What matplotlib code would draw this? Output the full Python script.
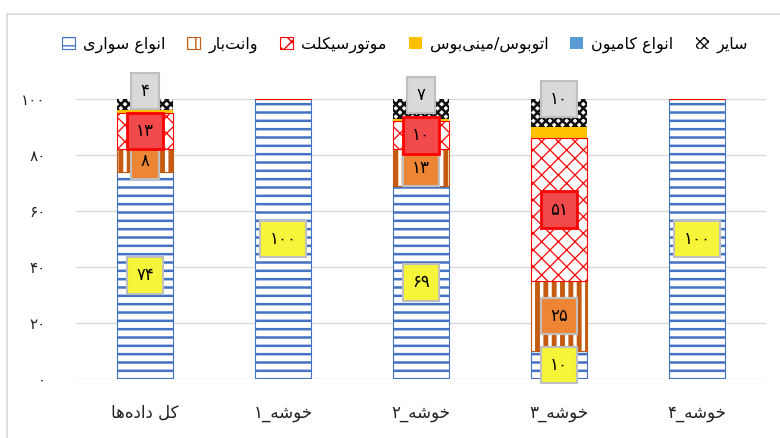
import numpy as np
import matplotlib
matplotlib.use("Agg")
import matplotlib.pyplot as plt
from matplotlib.patches import Rectangle

plt.rcParams['font.family'] = ['DejaVu Sans']

# categories (logical order) and series shares in percent
categories = ['کل داده‌ها', 'خوشه_۱', 'خوشه_۲', 'خوشه_۳', 'خوشه_۴']
series_names = ['انواع سواری', 'وانت‌بار', 'موتورسیکلت', 'اتوبوس/مینی‌بوس', 'انواع کامیون', 'سایر']
sedan = [74, 100, 69, 10, 100]
pickup = [8, 0, 13, 25, 0]
motorcycle = [13, 0, 10, 51, 0]
bus = [1, 0, 1, 4, 0]
truck = [0, 0, 0, 0, 0]
other = [4, 0, 7, 10, 0]
yticks = [0, 20, 40, 60, 80, 100]

# contextual forms: isolated, final, initial, medial (two forms -> no join to the left)
FORMS = {
    'ا': '\uFE8D\uFE8E', 'د': '\uFEA9\uFEAA', 'ر': '\uFEAD\uFEAE', 'و': '\uFEED\uFEEE',
    'ب': '\uFE8F\uFE90\uFE91\uFE92', 'ت': '\uFE95\uFE96\uFE97\uFE98',
    'خ': '\uFEA5\uFEA6\uFEA7\uFEA8', 'س': '\uFEB1\uFEB2\uFEB3\uFEB4',
    'ش': '\uFEB5\uFEB6\uFEB7\uFEB8', 'ع': '\uFEC9\uFECA\uFECB\uFECC',
    'ل': '\uFEDD\uFEDE\uFEDF\uFEE0', 'م': '\uFEE1\uFEE2\uFEE3\uFEE4',
    'ن': '\uFEE5\uFEE6\uFEE7\uFEE8', 'ه': '\uFEE9\uFEEA\uFEEB\uFEEC',
    'ی': '\uFBFC\uFBFD\uFBFE\uFBFF', 'ک': '\uFB8E\uFB8F\uFB90\uFB91',
}


def farsi(s):
    out = []
    for i, ch in enumerate(s):
        if ch not in FORMS:
            if ch != '\u200c':
                out.append(ch)
            continue
        f = FORMS[ch]
        prev = s[i - 1] if i > 0 else ''
        nxt = s[i + 1] if i + 1 < len(s) else ''
        jp = prev in FORMS and len(FORMS[prev]) == 4
        jn = len(f) == 4 and nxt in FORMS
        if jp and jn:
            out.append(f[3])
        elif jp:
            out.append(f[1])
        elif jn:
            out.append(f[2])
        else:
            out.append(f[0])
    return ''.join(reversed(out))


def fa_num(n):
    return str(n).translate(str.maketrans('0123456789', '۰۱۲۳۴۵۶۷۸۹'))


fig = plt.figure(figsize=(7.8, 4.38), dpi=100)
ax = fig.add_axes([76 / 780, 59 / 438, 690 / 780, 280 / 438])

fig.patches.append(Rectangle((7 / 780, -0.01), 1.0, (438 - 14) / 438 + 0.01,
                             transform=fig.transFigure, fill=False,
                             edgecolor='#d9d9d9', lw=1.2))

x = np.arange(len(categories))
width = 0.41
data = [sedan, pickup, motorcycle, bus, truck, other]
styles = [
    dict(facecolor='white', edgecolor='#4472C4', hatch='--', hlw=1.8, lw=0.8),
    dict(facecolor='white', edgecolor='#C55A11', hatch='||', hlw=3.5, lw=0.8),
    dict(facecolor='white', edgecolor='#FF0000', hatch='xx', hlw=0.9, lw=0.8),
    dict(facecolor='#FFC000', edgecolor='#FFC000', hatch=None, hlw=1.0, lw=0),
    dict(facecolor='#5B9BD5', edgecolor='#5B9BD5', hatch=None, hlw=1.0, lw=0),
    dict(facecolor='white', edgecolor='#111111', hatch='xxxx', hlw=1.8, lw=0),
]

bottom = np.zeros(len(categories))
handles = []
for vals, st, name in zip(data, styles, series_names):
    vals = np.array(vals, dtype=float)
    # hatch width is picked up when the bars are created
    with plt.rc_context({'hatch.linewidth': st['hlw']}):
        bars = ax.bar(x, vals, width, bottom=bottom, facecolor=st['facecolor'],
                      edgecolor=st['edgecolor'], hatch=st['hatch'], lw=st['lw'],
                      label=farsi(name), zorder=2)
    handles.append(bars)
    bottom += vals

# value boxes
label_style = {
    0: dict(fc='#F7F53A', ec='#BFBFBF', lw=1.5, dy=0),
    1: dict(fc='#EE8535', ec='#BFBFBF', lw=1.5, dy=0),
    2: dict(fc='#F24A4A', ec='#FF0000', lw=2.0, dy=0),
    5: dict(fc='#D9D9D9', ec='#BFBFBF', lw=1.5, dy=10),
}
bottom = np.zeros(len(categories))
for k, vals in enumerate(data):
    vals = np.array(vals, dtype=float)
    if k in label_style:
        ls = label_style[k]
        for xi, v, b0 in zip(x, vals, bottom):
            if v <= 0:
                continue
            ax.annotate(fa_num(int(v)), (xi, b0 + v / 2), xytext=(0, ls['dy']),
                        textcoords='offset points', ha='center', va='center',
                        fontsize=12, color='black', zorder=5 + k, annotation_clip=False,
                        bbox=dict(boxstyle='square,pad=0.55', fc=ls['fc'],
                                  ec=ls['ec'], lw=ls['lw']))
    bottom += vals

ax.set_xlim(-0.5, len(categories) - 0.5)
ax.set_ylim(0, 100)
ax.set_yticks(yticks)
ax.set_yticklabels([fa_num(t) for t in yticks], fontsize=11)
ax.set_xticks(x)
ax.set_xticklabels([farsi(c) for c in categories], fontsize=12)
ax.tick_params(axis='both', length=0, colors='#222222')
ax.tick_params(axis='y', pad=22)
ax.tick_params(axis='x', pad=18)
ax.grid(axis='y', color='#d9d9d9', lw=1, zorder=0)
ax.set_axisbelow(True)
for s in ax.spines.values():
    s.set_visible(False)

fig.legend(handles=handles, loc='center', bbox_to_anchor=(405 / 780, 393 / 438),
           ncol=6, frameon=False, fontsize=11.5, handlelength=0.8, handleheight=0.8,
           handletextpad=0.5, columnspacing=1.4)

fig.savefig('out.png', dpi=100)
